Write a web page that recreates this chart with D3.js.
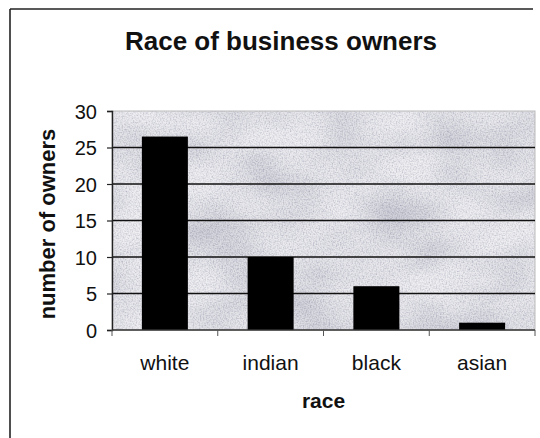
<!DOCTYPE html>
<html>
<head>
<meta charset="utf-8">
<script src="https://d3js.org/d3.v7.min.js"></script>
<style>
  html, body { margin: 0; padding: 0; background: #fff; }
  svg { display: block; }
  text { font-family: "Liberation Sans", Arial, sans-serif; fill: #111; }
</style>
</head>
<body>
<div id="chart"></div>
<script>
const categories = ["white", "indian", "black", "asian"];
const owners = [26.5, 10, 6, 1];
const yTicks = [0, 5, 10, 15, 20, 25, 30];
const titleText = "Race of business owners";
const xTitle = "race";
const yTitle = "number of owners";

const W = 540, H = 438;
const margin = { left: 112, right: 5, top: 111, bottom: 108 };
const pw = W - margin.left - margin.right;
const ph = H - margin.top - margin.bottom;

const svg = d3.select("#chart").append("svg").attr("width", W).attr("height", H);

const defs = svg.append("defs");
// fine speckle texture
const f = defs.append("filter").attr("id", "noise").attr("x", 0).attr("y", 0).attr("width", "100%").attr("height", "100%");
f.append("feTurbulence").attr("type", "fractalNoise").attr("baseFrequency", "0.7").attr("numOctaves", 2).attr("seed", 3).attr("result", "t");
f.append("feColorMatrix").attr("type", "matrix")
  .attr("values", "1.3 0 0 0 0.15  1.3 0 0 0 0.15  1.1 0 0 0 0.30  0 0 0 0 1");
// broad blotches
const f2 = defs.append("filter").attr("id", "blotch").attr("x", 0).attr("y", 0).attr("width", "100%").attr("height", "100%");
f2.append("feTurbulence").attr("type", "fractalNoise").attr("baseFrequency", "0.012 0.02").attr("numOctaves", 2).attr("seed", 7);
f2.append("feColorMatrix").attr("type", "matrix")
  .attr("values", "1.6 0 0 0 -0.1  1.6 0 0 0 -0.1  1.4 0 0 0 0.05  0 0 0 0 1");

// outer chart frame (left and top edges visible)
svg.append("line").attr("x1", 10).attr("y1", 9).attr("x2", 10).attr("y2", H).attr("stroke", "#222").attr("stroke-width", 1.6);
svg.append("line").attr("x1", 10).attr("y1", 9).attr("x2", 533).attr("y2", 9).attr("stroke", "#222").attr("stroke-width", 1.6);

const g = svg.append("g").attr("transform", `translate(${margin.left},${margin.top})`);

const x = d3.scaleBand().domain(categories).range([0, pw]).paddingInner(0.565).paddingOuter(0.2825);
const y = d3.scaleLinear().domain([0, 30]).range([ph, 0]);

// plot area background
g.append("rect").attr("width", pw).attr("height", ph).attr("fill", "#c8c8d0");
g.append("rect").attr("width", pw).attr("height", ph).attr("filter", "url(#blotch)").attr("opacity", 0.5);
g.append("rect").attr("width", pw).attr("height", ph).attr("filter", "url(#noise)").attr("opacity", 0.45);
g.append("rect").attr("width", pw).attr("height", ph).attr("fill", "none").attr("stroke", "#bbb").attr("stroke-width", 1);

// gridlines
g.selectAll(".grid").data(yTicks.filter(d => d > 0 && d < 30)).enter().append("line")
  .attr("x1", 0).attr("x2", pw).attr("y1", d => y(d)).attr("y2", d => y(d))
  .attr("stroke", "#111").attr("stroke-width", 1.4);

// bars
g.selectAll(".bar").data(categories).enter().append("rect")
  .attr("x", d => x(d)).attr("width", x.bandwidth())
  .attr("y", (d, i) => y(owners[i])).attr("height", (d, i) => ph - y(owners[i]))
  .attr("fill", "#000");

// y axis
const yAxis = g.append("g").call(d3.axisLeft(y).tickValues(yTicks).tickSize(5).tickPadding(10));
yAxis.select(".domain").attr("stroke", "#222").attr("stroke-width", 1.4);
yAxis.selectAll(".tick line").attr("stroke", "#222").attr("stroke-width", 1.2);
yAxis.selectAll("text").style("font-size", "20px").attr("fill", "#111").attr("dy", "0.36em");

// x axis
const xStep = x.step();
const xAxisG = g.append("g").attr("transform", `translate(0,${ph})`);
xAxisG.append("line").attr("x1", 0).attr("x2", pw).attr("stroke", "#333").attr("stroke-width", 1.4);
const bounds = d3.range(categories.length + 1).map(i => i * xStep);
xAxisG.selectAll(".xt").data(bounds).enter().append("line")
  .attr("x1", d => d).attr("x2", d => d).attr("y1", 0).attr("y2", 6)
  .attr("stroke", "#555").attr("stroke-width", 1);
xAxisG.selectAll(".xl").data(categories).enter().append("text")
  .attr("x", d => x(d) + x.bandwidth() / 2).attr("y", 40)
  .attr("text-anchor", "middle").style("font-size", "21px").text(d => d);

// axis titles
svg.append("text").attr("x", margin.left + pw / 2).attr("y", 408)
  .attr("text-anchor", "middle").style("font-size", "21px").style("font-weight", "bold").text(xTitle);
svg.append("text").attr("transform", `translate(55,224) rotate(-90)`)
  .attr("text-anchor", "middle").style("font-size", "22px").style("font-weight", "bold").text(yTitle);

// chart title
svg.append("text").attr("x", 281).attr("y", 50)
  .attr("text-anchor", "middle").style("font-size", "26px").style("font-weight", "bold").text(titleText);
</script>
</body>
</html>
